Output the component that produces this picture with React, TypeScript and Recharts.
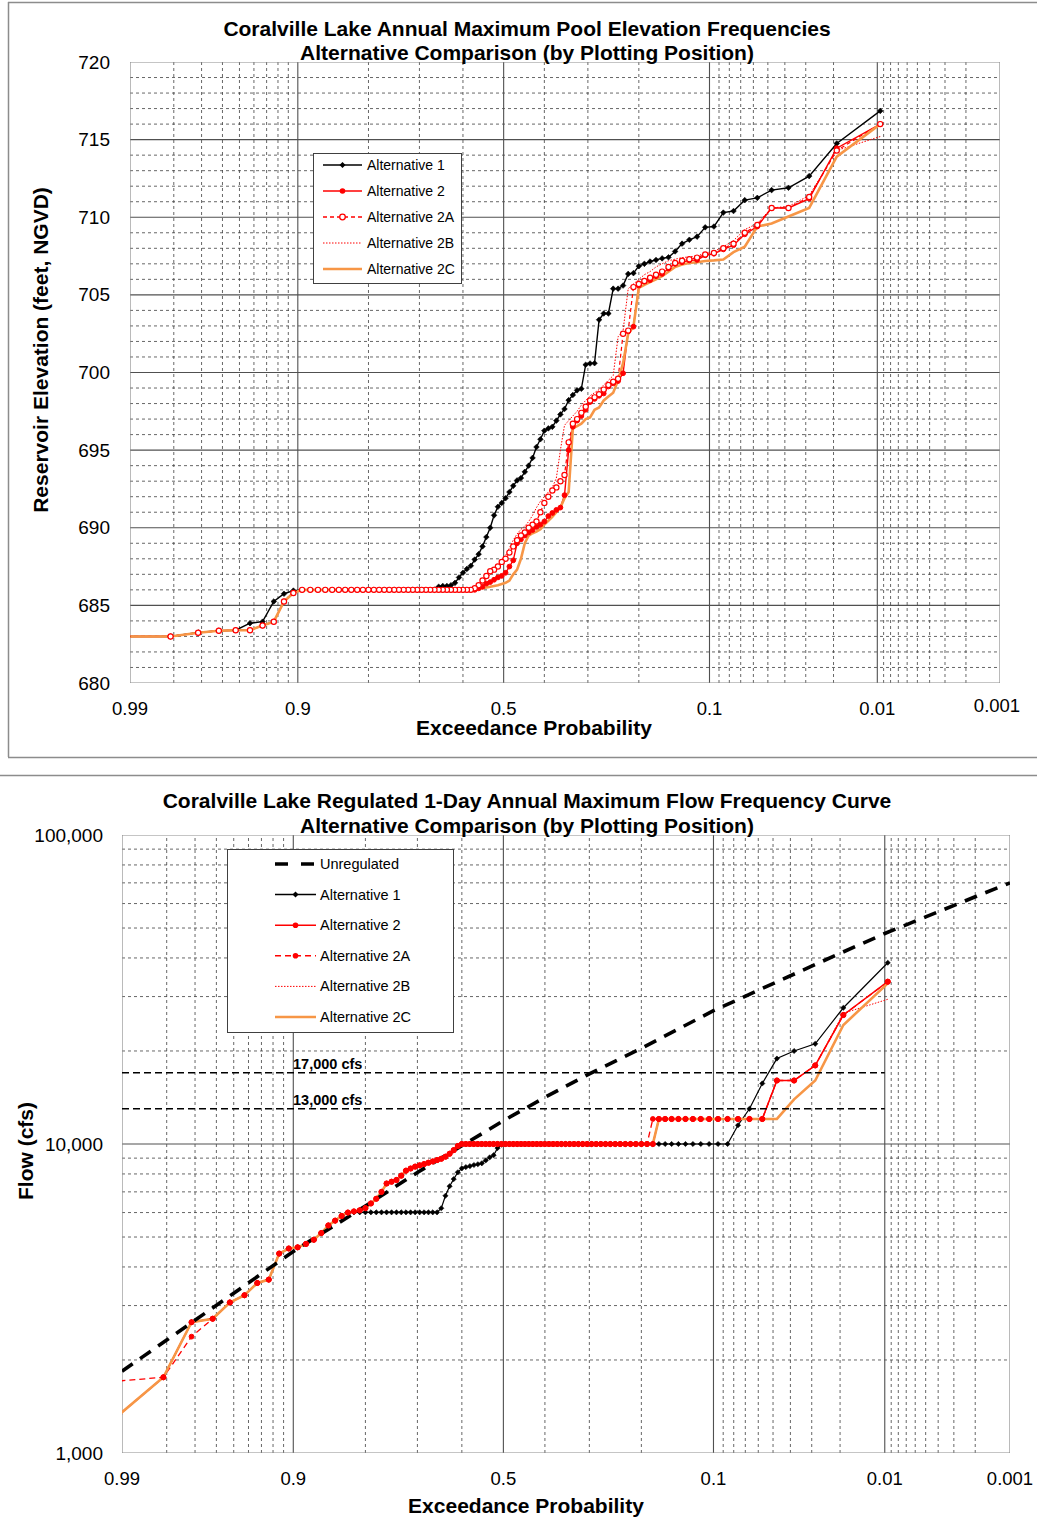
import React from 'react';
import { LineChart, Line, XAxis, YAxis } from 'recharts';

// ---------- inverse normal (probability-paper transform) ----------
function normInv(p: number): number {
  const a = [-3.969683028665376e1, 2.209460984245205e2, -2.759285104469687e2, 1.38357751867269e2, -3.066479806614716e1, 2.506628277459239];
  const b = [-5.447609879822406e1, 1.615858368580409e2, -1.556989798598866e2, 6.680131188771972e1, -1.328068155288572e1];
  const c = [-7.784894002430293e-3, -3.223964580411365e-1, -2.400758277161838, -2.549732539343734, 4.374664141464968, 2.938163982698783];
  const d = [7.784695709041462e-3, 3.224671290700398e-1, 2.445134137142996, 3.754408661907416];
  const plow = 0.02425;
  if (p < plow) {
    const q = Math.sqrt(-2 * Math.log(p));
    return (((((c[0] * q + c[1]) * q + c[2]) * q + c[3]) * q + c[4]) * q + c[5]) / ((((d[0] * q + d[1]) * q + d[2]) * q + d[3]) * q + 1);
  }
  if (p <= 1 - plow) {
    const q = p - 0.5;
    const r = q * q;
    return ((((((a[0] * r + a[1]) * r + a[2]) * r + a[3]) * r + a[4]) * r + a[5]) * q) / (((((b[0] * r + b[1]) * r + b[2]) * r + b[3]) * r + b[4]) * r + 1);
  }
  const q = Math.sqrt(-2 * Math.log(1 - p));
  return -(((((c[0] * q + c[1]) * q + c[2]) * q + c[3]) * q + c[4]) * q + c[5]) / ((((d[0] * q + d[1]) * q + d[2]) * q + d[3]) * q + 1);
}
const toZ = (exceed: number) => normInv(1 - exceed);

// ---------- plotting positions (Weibull, 104 years of record) ----------
const YEARS_OF_RECORD = 104;
const plotProb = Array.from({ length: YEARS_OF_RECORD }, (_, i) => (i + 1) / (YEARS_OF_RECORD + 1));

// ---------- axis / grid definitions ----------
const tickProbs = [0.99, 0.9, 0.5, 0.1, 0.01, 0.001];
const tickLabels = ['0.99', '0.9', '0.5', '0.1', '0.01', '0.001'];
const majorProbs = [0.9, 0.5, 0.1, 0.01];
const minorProbs = [0.98, 0.97, 0.96, 0.95, 0.94, 0.93, 0.92, 0.91, 0.8, 0.7, 0.6, 0.4, 0.3, 0.2,
  0.09, 0.08, 0.07, 0.06, 0.05, 0.04, 0.03, 0.02, 0.009, 0.008, 0.007, 0.006, 0.005, 0.004, 0.003, 0.002];
const edgeProbs = [0.99, 0.001];

const topYTicks = [680, 685, 690, 695, 700, 705, 710, 715, 720];
const topMajorY = [685, 690, 695, 700, 705, 710, 715];
const topMinorY = [681, 682, 683, 684, 686, 687, 688, 689, 691, 692, 693, 694, 696, 697, 698, 699,
  701, 702, 703, 704, 706, 707, 708, 709, 711, 712, 713, 714, 716, 717, 718, 719];
const botYTicks = [1000, 10000, 100000];
const botMajorY = [10000];
const botMinorY = [2000, 3000, 4000, 5000, 6000, 7000, 8000, 9000, 20000, 30000, 40000, 50000, 60000, 70000, 80000, 90000];

// ---------- Pool elevation (feet, NGVD), ranked largest first ----------
const alt1Top = [
  716.85, 714.75, 712.65, 711.9, 711.75, 711.25, 711.1, 710.4, 710.3, 709.4,
  709.35, 708.75, 708.55, 708.3, 707.8, 707.42, 707.35, 707.25, 707.15, 707.0,
  706.85, 706.4, 706.35, 705.6, 705.4, 705.4, 703.8, 703.8, 703.4, 700.6,
  700.58, 700.5, 698.95, 698.85, 698.55, 698.22, 697.65, 697.3, 696.9, 696.5,
  696.4, 696.25, 695.7, 695.2, 694.5, 694.0, 693.6, 693.2, 693.05, 692.7,
  692.3, 691.9, 691.6, 691.35, 690.8, 690.0, 689.4, 688.8, 688.3, 687.95,
  687.55, 687.35, 687.1, 686.8, 686.45, 686.3, 686.25, 686.25, 686.2, 686.0,
  686.0, 686.0, 686.0, 686.0, 686.0, 686.0, 686.0, 686.0, 686.0, 686.0,
  686.0, 686.0, 686.0, 686.0, 686.0, 686.0, 686.0, 686.0, 686.0, 686.0,
  686.0, 686.0, 686.0, 686.0, 685.95, 685.75, 685.25, 683.95, 683.85, 683.4,
  683.37, 683.25, 683.0, 683.0,
];
const alt2Top = [
  716.0, 714.45, 711.2, 710.6, 710.6, 709.4, 708.9, 708.2, 707.93, 707.65,
  707.55, 707.25, 707.22, 707.1, 707.0, 706.7, 706.35, 706.2, 705.95, 705.85,
  705.6, 702.95, 702.65, 699.95, 699.45, 699.3, 699.1, 698.65, 698.5, 698.3,
  698.1, 697.6, 697.2, 696.9, 696.5, 695.0, 692.1, 691.3, 691.15, 690.95,
  690.75, 690.4, 690.2, 690.05, 689.85, 689.7, 689.5, 689.25, 689.0, 687.9,
  687.5, 687.1, 686.9, 686.8, 686.65, 686.5, 686.4, 686.2, 686.1, 686.0,
  686.0, 686.0, 686.0, 686.0, 686.0, 686.0, 686.0, 686.0, 686.0, 686.0,
  686.0, 686.0, 686.0, 686.0, 686.0, 686.0, 686.0, 686.0, 686.0, 686.0,
  686.0, 686.0, 686.0, 686.0, 686.0, 686.0, 686.0, 686.0, 686.0, 686.0,
  686.0, 686.0, 686.0, 686.0, 685.8, 685.25, 683.95, 683.7, 683.4, 683.4,
  683.37, 683.24, 683.0, 683.0,
];
const alt2ATop = [
  716.0, 714.3, 711.3, 710.6, 710.6, 709.5, 709.0, 708.3, 708.0, 707.7,
  707.6, 707.4, 707.3, 707.2, 707.05, 706.8, 706.5, 706.3, 706.1, 705.9,
  705.7, 705.5, 702.7, 702.5, 699.6, 699.4, 699.2, 698.9, 698.6, 698.4,
  698.2, 697.8, 697.4, 697.0, 696.7, 695.5, 693.4, 693.0, 692.6, 692.4,
  692.0, 691.6, 691.0, 690.4, 690.2, 690.0, 689.7, 689.5, 689.2, 688.8,
  688.4, 688.0, 687.8, 687.5, 687.3, 687.2, 686.9, 686.6, 686.3, 686.1,
  686.0, 686.0, 686.0, 686.0, 686.0, 686.0, 686.0, 686.0, 686.0, 686.0,
  686.0, 686.0, 686.0, 686.0, 686.0, 686.0, 686.0, 686.0, 686.0, 686.0,
  686.0, 686.0, 686.0, 686.0, 686.0, 686.0, 686.0, 686.0, 686.0, 686.0,
  686.0, 686.0, 686.0, 686.0, 685.8, 685.25, 683.95, 683.7, 683.4, 683.4,
  683.37, 683.24, 683.0, 683.0,
];
const alt2BTop = [
  715.2, 714.3, 711.4, 710.7, 710.6, 709.6, 709.2, 708.5, 708.1, 707.8,
  707.7, 707.5, 707.45, 707.4, 707.3, 707.2, 707.0, 706.8, 706.5, 706.3,
  706.0, 705.7, 705.4, 702.7, 702.3, 699.8, 699.5, 699.2, 698.9, 698.7,
  698.5, 698.2, 697.9, 697.5, 697.2, 696.9, 696.6, 695.0, 693.2, 692.6,
  692.3, 692.0, 691.7, 691.3, 690.8, 690.4, 690.1, 689.9, 689.6, 689.2,
  688.7, 688.2, 687.8, 687.4, 687.2, 687.0, 686.7, 686.4, 686.2, 686.05,
  686.0, 686.0, 686.0, 686.0, 686.0, 686.0, 686.0, 686.0, 686.0, 686.0,
  686.0, 686.0, 686.0, 686.0, 686.0, 686.0, 686.0, 686.0, 686.0, 686.0,
  686.0, 686.0, 686.0, 686.0, 686.0, 686.0, 686.0, 686.0, 686.0, 686.0,
  686.0, 686.0, 686.0, 686.0, 685.8, 685.25, 683.95, 683.7, 683.4, 683.4,
  683.37, 683.24, 683.0, 683.0,
];
const alt2CTop = [
  716.0, 713.9, 710.6, 710.05, 709.6, 709.4, 708.1, 707.75, 707.28, 707.22,
  707.18, 707.1, 707.05, 706.95, 706.8, 706.5, 706.2, 706.0, 705.83, 705.65,
  705.45, 702.95, 702.5, 700.6, 699.5, 698.7, 698.45, 698.2, 697.75, 697.6,
  697.1, 697.0, 696.7, 696.55, 696.4, 692.3, 691.9, 691.3, 691.0, 690.7,
  690.45, 690.2, 689.9, 689.75, 689.65, 689.5, 689.0, 688.0, 687.3, 687.0,
  686.6, 686.45, 686.38, 686.3, 686.25, 686.2, 686.15, 686.1, 686.05, 686.0,
  686.0, 686.0, 686.0, 686.0, 686.0, 686.0, 686.0, 686.0, 686.0, 686.0,
  686.0, 686.0, 686.0, 686.0, 686.0, 686.0, 686.0, 686.0, 686.0, 686.0,
  686.0, 686.0, 686.0, 686.0, 686.0, 686.0, 686.0, 686.0, 686.0, 686.0,
  686.0, 686.0, 686.0, 686.0, 685.8, 685.25, 683.95, 683.7, 683.4, 683.4,
  683.37, 683.24, 683.0, 683.0,
];

// ---------- Regulated 1-day flow (cfs), ranked largest first ----------
const alt1Bot = [
  38600, 27600, 21100, 20000, 18900, 15700, 13000, 11500, 10000, 10000,
  10000, 10000, 10000, 10000, 10000, 10000, 10000, 10000, 10000, 10000,
  10000, 10000, 10000, 10000, 10000, 10000, 10000, 10000, 10000, 10000,
  10000, 10000, 10000, 10000, 10000, 10000, 10000, 10000, 10000, 10000,
  10000, 10000, 10000, 10000, 10000, 10000, 10000, 10000, 10000, 10000,
  10000, 10000, 9950, 9700, 9200, 9050, 8850, 8660, 8600, 8550,
  8480, 8420, 8345, 8100, 7700, 7300, 6800, 6195, 6010, 6010,
  6010, 6010, 6010, 6010, 6010, 6010, 6010, 6010, 6010, 6010,
  6010, 6010, 6010, 6010, 6010, 6010, 6000, 5850, 5650, 5450,
  5150, 4900, 4750, 4630, 4590, 4420, 3640, 3550, 3240, 3070,
  2720, 2650, 1758, 1330,
];
const alt2Bot = [
  33520, 26150, 17960, 16050, 16050, 12050, 12050, 12050, 12050, 12050,
  12050, 12050, 12050, 12050, 12050, 12050, 12050, 12050, 10000, 10000,
  10000, 10000, 10000, 10000, 10000, 10000, 10000, 10000, 10000, 10000,
  10000, 10000, 10000, 10000, 10000, 10000, 10000, 10000, 10000, 10000,
  10000, 10000, 10000, 10000, 10000, 10000, 10000, 10000, 10000, 10000,
  10000, 10000, 10000, 10000, 10000, 10000, 10000, 10000, 10000, 10000,
  10000, 10000, 10000, 9850, 9550, 9300, 9100, 8960, 8870, 8780,
  8700, 8610, 8530, 8450, 8330, 8200, 7900, 7650, 7550, 7450,
  7000, 6650, 6420, 6200, 6100, 6050, 6000, 5850, 5650, 5450,
  5150, 4900, 4750, 4630, 4590, 4420, 3640, 3550, 3240, 3070,
  2720, 2650, 1758, 1330,
];
const alt2ABot = [
  33520, 26150, 17960, 16050, 16050, 12050, 12050, 12050, 12050, 12050,
  12050, 12050, 12050, 12050, 12050, 12050, 12050, 12050, 12050, 10000,
  10000, 10000, 10000, 10000, 10000, 10000, 10000, 10000, 10000, 10000,
  10000, 10000, 10000, 10000, 10000, 10000, 10000, 10000, 10000, 10000,
  10000, 10000, 10000, 10000, 10000, 10000, 10000, 10000, 10000, 10000,
  10000, 10000, 10000, 10000, 10000, 10000, 10000, 10000, 10000, 10000,
  10000, 10000, 10000, 9850, 9550, 9300, 9100, 8960, 8870, 8780,
  8700, 8610, 8530, 8450, 8330, 8200, 7900, 7650, 7550, 7450,
  7000, 6650, 6420, 6200, 6100, 6050, 6000, 5850, 5650, 5450,
  5150, 4900, 4750, 4630, 4590, 4420, 3640, 3550, 3240, 3070,
  2720, 2380, 1758, 1710,
];
const alt2BBot = [
  29400, 26500, 17960, 16050, 16050, 12050, 12050, 12050, 12050, 12050,
  12050, 12050, 12050, 12050, 12050, 12050, 12050, 12050, 10000, 10000,
  10000, 10000, 10000, 10000, 10000, 10000, 10000, 10000, 10000, 10000,
  10000, 10000, 10000, 10000, 10000, 10000, 10000, 10000, 10000, 10000,
  10000, 10000, 10000, 10000, 10000, 10000, 10000, 10000, 10000, 10000,
  10000, 10000, 10000, 10000, 10000, 10000, 10000, 10000, 10000, 10000,
  10000, 10000, 10000, 9850, 9550, 9300, 9100, 8960, 8870, 8780,
  8700, 8610, 8530, 8450, 8330, 8200, 7900, 7650, 7550, 7450,
  7000, 6650, 6420, 6200, 6100, 6050, 6000, 5850, 5650, 5450,
  5150, 4900, 4750, 4630, 4590, 4420, 3640, 3550, 3240, 3070,
  2720, 2650, 1758, 1330,
];
const alt2CBot = [
  33100, 24270, 16050, 13950, 12050, 12050, 12050, 12050, 12050, 12050,
  12050, 12050, 12050, 12050, 12050, 12050, 12050, 12050, 10000, 10000,
  10000, 10000, 10000, 10000, 10000, 10000, 10000, 10000, 10000, 10000,
  10000, 10000, 10000, 10000, 10000, 10000, 10000, 10000, 10000, 10000,
  10000, 10000, 10000, 10000, 10000, 10000, 10000, 10000, 10000, 10000,
  10000, 10000, 10000, 10000, 10000, 10000, 10000, 10000, 10000, 10000,
  10000, 10000, 10000, 9850, 9550, 9300, 9100, 8960, 8870, 8780,
  8700, 8610, 8530, 8450, 8330, 8200, 7900, 7650, 7550, 7450,
  7000, 6650, 6420, 6200, 6100, 6050, 6000, 5850, 5650, 5450,
  5150, 4900, 4750, 4630, 4590, 4420, 3640, 3550, 3240, 3070,
  2720, 2650, 1758, 1330,
];

// Unregulated analytical frequency curve
const unregProb = [0.99, 0.98, 0.95, 0.9, 0.8, 0.7, 0.6, 0.5, 0.4, 0.3, 0.2, 0.1, 0.05, 0.02, 0.01, 0.005, 0.002, 0.001];
const unregFlow = [1840, 2320, 3290, 4490, 6300, 8090, 9870, 11890, 14160, 16870, 20400, 27000, 33050, 41400, 48000, 54300, 63100, 70000];

// Regulation targets
const targetFlows = [17000, 13000];
const targetLabels = ['17,000 cfs', '13,000 cfs'];
const targetExtent = [0.99, 0.01];

// ---------- derived rows ----------
const topRows = plotProb.map((p, i) => ({
  z: toZ(p), alt1: alt1Top[i], alt2: alt2Top[i], alt2A: alt2ATop[i], alt2B: alt2BTop[i], alt2C: alt2CTop[i],
}));
const botRows = plotProb.map((p, i) => ({
  z: toZ(p), alt1: alt1Bot[i], alt2: alt2Bot[i], alt2A: alt2ABot[i], alt2B: alt2BBot[i], alt2C: alt2CBot[i],
}));
const unregRows = unregProb.map((p, i) => ({ z: toZ(p), v: unregFlow[i] }));

const zMin = toZ(0.99);
const zMax = toZ(0.001);
const tickZ = tickProbs.map(toZ);

const FONT = '"Liberation Sans", Arial, Helvetica, sans-serif';
const RED = '#FF0000';
const ORANGE = '#F79646';
const MAJOR = '#505050';
const MINOR = '#404040';
const EDGE = '#8C8C8C';

// ---------- marks ----------
const diamondDot = (color: string, s: number) => (props: any) => {
  const { cx, cy, index } = props;
  if (cx == null || cy == null) return <g key={`d${index}`} />;
  return <path key={`d${index}`} d={`M${cx},${cy - s}L${cx + s},${cy}L${cx},${cy + s}L${cx - s},${cy}Z`} fill={color} stroke={color} strokeWidth={0.6} />;
};
const circleDot = (stroke: string, fill: string, r: number, sw: number) => (props: any) => {
  const { cx, cy, index } = props;
  if (cx == null || cy == null) return <g key={`c${index}`} />;
  return <circle key={`c${index}`} cx={cx} cy={cy} r={r} fill={fill} stroke={stroke} strokeWidth={sw} />;
};

function gridSet(prefix: string, y0: number, y1: number, majorY: number[], minorY: number[]) {
  const out: any[] = [];
  const common = { dot: false, activeDot: false, isAnimationActive: false, legendType: 'none' as const, dataKey: 'g' };
  minorProbs.forEach((p, i) => out.push(
    <Line key={`${prefix}vm${i}`} {...common} data={[{ z: toZ(p), g: y0 }, { z: toZ(p), g: y1 }]} stroke={MINOR} strokeWidth={0.8} strokeDasharray="3 3" />));
  minorY.forEach((v, i) => out.push(
    <Line key={`${prefix}hm${i}`} {...common} data={[{ z: zMin, g: v }, { z: zMax, g: v }]} stroke={MINOR} strokeWidth={0.8} strokeDasharray="3 3" />));
  majorProbs.forEach((p, i) => out.push(
    <Line key={`${prefix}vM${i}`} {...common} data={[{ z: toZ(p), g: y0 }, { z: toZ(p), g: y1 }]} stroke={MAJOR} strokeWidth={1.1} />));
  majorY.forEach((v, i) => out.push(
    <Line key={`${prefix}hM${i}`} {...common} data={[{ z: zMin, g: v }, { z: zMax, g: v }]} stroke={MAJOR} strokeWidth={1.1} />));
  edgeProbs.forEach((p, i) => out.push(
    <Line key={`${prefix}vE${i}`} {...common} data={[{ z: toZ(p), g: y0 }, { z: toZ(p), g: y1 }]} stroke={EDGE} strokeWidth={1.2} />));
  [y0, y1].forEach((v, i) => out.push(
    <Line key={`${prefix}hE${i}`} {...common} data={[{ z: zMin, g: v }, { z: zMax, g: v }]} stroke={EDGE} strokeWidth={1.2} />));
  return out;
}

const makeXTick = (top: boolean) => (props: any) => {
  const { x, y, payload, index } = props;
  const idx = tickZ.findIndex((t) => Math.abs(t - payload.value) < 1e-6);
  const label = idx >= 0 ? tickLabels[idx] : '';
  const last = label === '0.001';
  return (
    <text key={`xt${index}`} x={x + (top && last ? -3 : 0)} y={y + (top && last ? -3 : 0)} textAnchor="middle" dominantBaseline="central"
      fontFamily={FONT} fontSize={18.5} fill="#000">{label}</text>
  );
};
const makeYTick = (fmt: (v: number) => string) => (props: any) => {
  const { x, y, payload, index } = props;
  return (
    <text key={`yt${index}`} x={x} y={y} textAnchor="end" dominantBaseline="central" fontFamily={FONT} fontSize={19} fill="#000">{fmt(payload.value)}</text>
  );
};

function TopChart() {
  return (
    <LineChart width={1037} height={760} data={topRows} margin={{ top: 62, right: 37, bottom: 0, left: 0 }}>
      <XAxis dataKey="z" type="number" domain={[zMin, zMax]} allowDataOverflow ticks={tickZ} interval={0}
        tick={makeXTick(true)} tickLine={false} axisLine={false} height={77} tickSize={0} tickMargin={25} />
      <YAxis type="number" domain={[680, 720]} allowDataOverflow ticks={topYTicks} interval={0}
        tick={makeYTick((v) => String(v))} tickLine={false} axisLine={false} width={130} tickSize={0} tickMargin={20} />
      {gridSet('t', 680, 720, topMajorY, topMinorY)}
      <Line dataKey="alt1" stroke="#000" strokeWidth={1.4} dot={diamondDot('#000', 2.8)} activeDot={false} isAnimationActive={false} />
      <Line dataKey="alt2" stroke={RED} strokeWidth={1.4} dot={circleDot(RED, RED, 2.4, 1)} activeDot={false} isAnimationActive={false} />
      <Line dataKey="alt2A" stroke={RED} strokeWidth={1.2} strokeDasharray="4 3" dot={circleDot(RED, '#fff', 2.6, 1.2)} activeDot={false} isAnimationActive={false} />
      <Line dataKey="alt2B" stroke={RED} strokeWidth={1} strokeDasharray="1.5 1.5" dot={false} activeDot={false} isAnimationActive={false} />
      <Line dataKey="alt2C" stroke={ORANGE} strokeWidth={2.6} dot={false} activeDot={false} isAnimationActive={false} />
    </LineChart>
  );
}

function BottomChart() {
  return (
    <LineChart width={1037} height={779} data={botRows} margin={{ top: 75, right: 27, bottom: 0, left: 0 }}>
      <XAxis dataKey="z" type="number" domain={[zMin, zMax]} allowDataOverflow ticks={tickZ} interval={0}
        tick={makeXTick(false)} tickLine={false} axisLine={false} height={86} tickSize={0} tickMargin={25} />
      <YAxis type="number" scale="log" domain={[1000, 100000]} allowDataOverflow ticks={botYTicks} interval={0}
        tick={makeYTick((v) => v.toLocaleString('en-US'))} tickLine={false} axisLine={false} width={122} tickSize={0} tickMargin={19} />
      {gridSet('b', 1000, 100000, botMajorY, botMinorY)}
      <Line dataKey="alt1" stroke="#000" strokeWidth={1.2} dot={diamondDot('#000', 2.6)} activeDot={false} isAnimationActive={false} />
      <Line dataKey="alt2" stroke={RED} strokeWidth={1.5} dot={circleDot(RED, RED, 2.6, 1)} activeDot={false} isAnimationActive={false} />
      <Line dataKey="alt2A" stroke={RED} strokeWidth={1.3} strokeDasharray="6 4" dot={circleDot(RED, RED, 2.4, 1)} activeDot={false} isAnimationActive={false} />
      <Line dataKey="alt2B" stroke={RED} strokeWidth={1} strokeDasharray="1.5 1.5" dot={false} activeDot={false} isAnimationActive={false} />
      <Line dataKey="alt2C" stroke={ORANGE} strokeWidth={2.6} dot={false} activeDot={false} isAnimationActive={false} />
      {targetFlows.map((f, i) => (
        <Line key={`tg${i}`} data={targetExtent.map((p) => ({ z: toZ(p), g: f }))} dataKey="g" stroke="#000" strokeWidth={1.5}
          strokeDasharray="7 4" dot={false} activeDot={false} isAnimationActive={false} legendType="none" />
      ))}
      <Line data={unregRows} dataKey="v" stroke="#000" strokeWidth={3.6} strokeDasharray="13 9" dot={false} activeDot={false} isAnimationActive={false} />
    </LineChart>
  );
}

type LegendItem = { label: string; color: string; width: number; dash?: string; marker?: 'diamond' | 'dot' | 'ring' };
const topLegend: LegendItem[] = [
  { label: 'Alternative 1', color: '#000', width: 1.5, marker: 'diamond' },
  { label: 'Alternative 2', color: RED, width: 1.5, marker: 'dot' },
  { label: 'Alternative 2A', color: RED, width: 1.3, dash: '4 3', marker: 'ring' },
  { label: 'Alternative 2B', color: RED, width: 1, dash: '1.5 1.5' },
  { label: 'Alternative 2C', color: ORANGE, width: 2.6 },
];
const botLegend: LegendItem[] = [
  { label: 'Unregulated', color: '#000', width: 3.6, dash: '13 13' },
  { label: 'Alternative 1', color: '#000', width: 1.5, marker: 'diamond' },
  { label: 'Alternative 2', color: RED, width: 1.5, marker: 'dot' },
  { label: 'Alternative 2A', color: RED, width: 1.5, dash: '6 4', marker: 'dot' },
  { label: 'Alternative 2B', color: RED, width: 1, dash: '1.5 1.5' },
  { label: 'Alternative 2C', color: ORANGE, width: 2.6 },
];

function LegendBox({ x, y, w, h, items, first, step, x0, x1, tx, fs }: any) {
  return (
    <g>
      <rect x={x + 0.5} y={y + 0.5} width={w} height={h} fill="#fff" stroke="#404040" strokeWidth={1} />
      {items.map((it: LegendItem, i: number) => {
        const cy = first + i * step;
        const cx = (x0 + x1) / 2;
        return (
          <g key={it.label}>
            <line x1={x0} y1={cy} x2={x1} y2={cy} stroke={it.color} strokeWidth={it.width} strokeDasharray={it.dash} />
            {it.marker === 'diamond' && <path d={`M${cx},${cy - 3}L${cx + 3},${cy}L${cx},${cy + 3}L${cx - 3},${cy}Z`} fill={it.color} />}
            {it.marker === 'dot' && <circle cx={cx} cy={cy} r={2.8} fill={it.color} />}
            {it.marker === 'ring' && <circle cx={cx} cy={cy} r={2.8} fill="#fff" stroke={it.color} strokeWidth={1.3} />}
            <text x={tx} y={cy} dominantBaseline="central" fontFamily={FONT} fontSize={fs} fill="#000">{it.label}</text>
          </g>
        );
      })}
    </g>
  );
}

export default function App() {
  const titleStyle = { fontFamily: FONT, fontWeight: 700, fontSize: 21 } as const;
  return (
    <div style={{ position: 'absolute', left: 0, top: 0, width: 1037, height: 1539, background: '#fff', overflow: 'hidden' }}>
      <div style={{ position: 'absolute', left: 0, top: 0 }}><TopChart /></div>
      <div style={{ position: 'absolute', left: 0, top: 760 }}><BottomChart /></div>
      <svg width={1037} height={1539} style={{ position: 'absolute', left: 0, top: 0, pointerEvents: 'none' }}>
        <line x1={8.5} y1={2} x2={8.5} y2={757} stroke={EDGE} strokeWidth={1.5} />
        <line x1={8} y1={2.5} x2={1037} y2={2.5} stroke={EDGE} strokeWidth={1.5} />
        <line x1={8} y1={757.5} x2={1037} y2={757.5} stroke={EDGE} strokeWidth={1.5} />
        <line x1={0} y1={775.5} x2={1037} y2={775.5} stroke={EDGE} strokeWidth={1.5} />
        <text x={527} y={28} textAnchor="middle" dominantBaseline="central" {...titleStyle}>Coralville Lake Annual Maximum Pool Elevation Frequencies</text>
        <text x={527} y={52} textAnchor="middle" dominantBaseline="central" {...titleStyle}>Alternative Comparison (by Plotting Position)</text>
        <text x={534} y={727} textAnchor="middle" dominantBaseline="central" {...titleStyle}>Exceedance Probability</text>
        <text x={40} y={350} textAnchor="middle" dominantBaseline="central" transform="rotate(-90 40 350)" {...titleStyle}>Reservoir Elevation (feet, NGVD)</text>
        <text x={527} y={800} textAnchor="middle" dominantBaseline="central" {...titleStyle}>Coralville Lake Regulated 1-Day Annual Maximum Flow Frequency Curve</text>
        <text x={527} y={825} textAnchor="middle" dominantBaseline="central" {...titleStyle}>Alternative Comparison (by Plotting Position)</text>
        <text x={526} y={1505} textAnchor="middle" dominantBaseline="central" {...titleStyle}>Exceedance Probability</text>
        <text x={25} y={1151} textAnchor="middle" dominantBaseline="central" transform="rotate(-90 25 1151)" {...titleStyle}>Flow (cfs)</text>
        {targetLabels.map((t, i) => (
          <text key={t} x={293} y={i === 0 ? 1064 : 1100} dominantBaseline="central" fontFamily={FONT} fontWeight={700} fontSize={14.5} fill="#000">{t}</text>
        ))}
        <LegendBox x={313} y={153} w={148} h={130} items={topLegend} first={165} step={26} x0={323} x1={362} tx={367} fs={14} />
        <LegendBox x={227} y={849} w={226} h={183} items={botLegend} first={864} step={30.6} x0={275} x1={316} tx={320} fs={14.5} />
      </svg>
    </div>
  );
}
